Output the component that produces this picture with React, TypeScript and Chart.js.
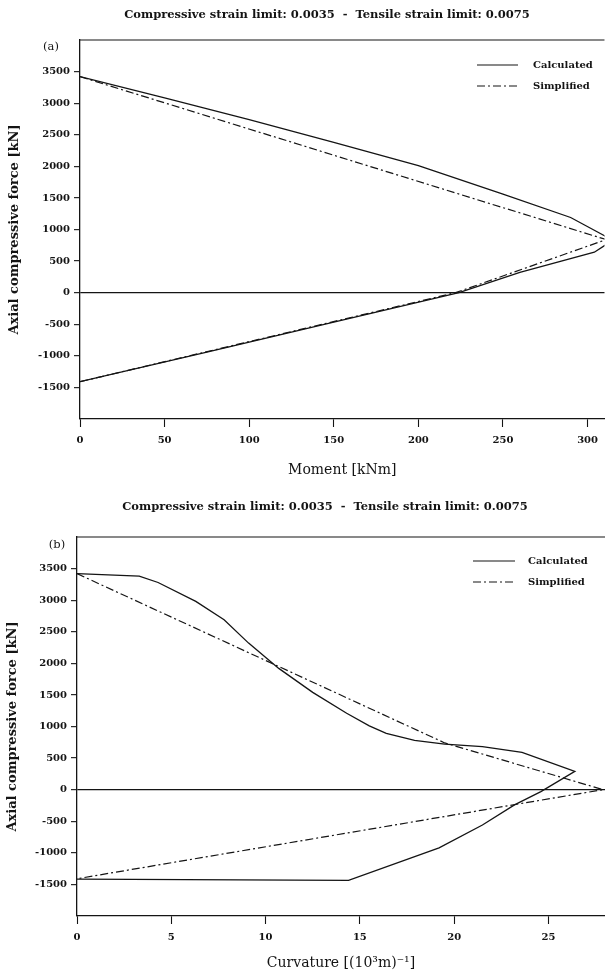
import React, { useEffect, useRef } from "react";
import { Chart, registerables } from "chart.js";

Chart.register(...registerables);

// ---------- text ----------
const TITLE = "Compressive strain limit: 0.0035  -  Tensile strain limit: 0.0075";
const Y_TITLE = "Axial compressive force [kN]";
const X_TITLE_A = "Moment [kNm]";
const X_TITLE_B = "Curvature [(10³m)⁻¹]";
const SERIES_NAMES = ["Calculated", "Simplified"];

// ---------- panel (a): moment vs axial force ----------
const momentCalc = [0, 50, 100, 150, 200, 250, 290, 310, 314, 310, 304, 260, 224, 150, 75, 0];
const forceCalcA = [3420, 3085, 2740, 2380, 2010, 1560, 1190, 902, 810, 744, 640, 320, 0, -465, -940, -1410];
const momentSimp = [0, 311, 222, 0];
const forceSimpA = [3420, 840, 0, -1410];

// ---------- panel (b): curvature vs axial force ----------
const curvCalc = [0, 3.3, 4.3, 6.3, 7.8, 9.1, 10.7, 12.5, 14.3, 15.5, 16.4, 17.9, 19.5, 21.5, 23.6, 26.4, 24.6, 23.2, 21.5, 19.2, 14.4, 0];
const forceCalcB = [3420, 3380, 3280, 2980, 2690, 2320, 1920, 1540, 1210, 1010, 890, 780, 720, 680, 590, 290, -30, -240, -560, -920, -1435, -1415];
const curvSimp = [0, 19.5, 27.9, 0];
const forceSimpB = [3420, 740, 0, -1410];

// ---------- axes ----------
const Y_MIN = -2000;
const Y_MAX = 4000;
const Y_STEP = 500;
const Y_LABEL_MIN = -1500;
const Y_LABEL_MAX = 3500;
const X_MAX_A = 310;
const X_STEP_A = 50;
const X_MAX_B = 28;
const X_STEP_B = 5;

const INK = "#141414";
const SERIF = '"DejaVu Serif", serif';
const DASH_DOT = [8, 3, 2, 3];

const toPoints = (xs: number[], ys: number[]) => xs.map((x, i) => ({ x, y: ys[i] }));

const decorPlugin = {
  id: "decor",
  afterDraw(chart: any, _args: any, opts: any) {
    const { ctx, chartArea } = chart;
    ctx.save();
    ctx.strokeStyle = INK;
    ctx.fillStyle = INK;
    ctx.lineWidth = 1.2;
    // top frame line
    ctx.beginPath();
    ctx.moveTo(chartArea.left, chartArea.top);
    ctx.lineTo(chartArea.right, chartArea.top);
    ctx.stroke();
    // title
    ctx.font = `bold 11.5px ${SERIF}`;
    ctx.textAlign = "center";
    ctx.textBaseline = "middle";
    ctx.fillText(opts.title, opts.titleX, opts.titleY);
    // panel tag
    ctx.font = `11.5px ${SERIF}`;
    ctx.fillText(opts.panel, opts.panelX, opts.panelY);
    // legend
    ctx.textAlign = "left";
    chart.data.datasets.forEach((ds: any, i: number) => {
      const y = opts.legendY + i * opts.legendGap;
      ctx.lineWidth = 1.1;
      ctx.setLineDash(ds.borderDash || []);
      ctx.beginPath();
      ctx.moveTo(opts.legendX, y);
      ctx.lineTo(opts.legendX + opts.legendLen, y);
      ctx.stroke();
      ctx.setLineDash([]);
      ctx.font = `bold 10px ${SERIF}`;
      ctx.fillText(ds.label, opts.legendTextX, y);
    });
    ctx.restore();
  },
};

function makeConfig(p: any) {
  return {
    type: "scatter",
    data: {
      datasets: [
        {
          label: SERIES_NAMES[0],
          data: p.calc,
          showLine: true,
          borderColor: INK,
          borderWidth: 1.3,
          pointRadius: 0,
          tension: 0,
        },
        {
          label: SERIES_NAMES[1],
          data: p.simp,
          showLine: true,
          borderColor: INK,
          borderWidth: 1.2,
          borderDash: DASH_DOT,
          pointRadius: 0,
          tension: 0,
        },
      ],
    },
    options: {
      responsive: false,
      animation: false,
      devicePixelRatio: 1,
      layout: { padding: { top: p.padTop, left: 0, right: 0, bottom: 0 } },
      plugins: {
        legend: { display: false },
        title: { display: false },
        tooltip: { enabled: false },
        decor: p.decor,
      },
      scales: {
        x: {
          type: "linear",
          min: 0,
          max: p.xMax,
          afterFit: (s: any) => {
            s.height = p.xAxisHeight;
          },
          ticks: {
            stepSize: p.xStep,
            includeBounds: false,
            color: INK,
            font: { family: SERIF, size: 10, weight: "bold" },
            padding: 7,
            maxRotation: 0,
          },
          grid: {
            drawOnChartArea: false,
            drawTicks: true,
            tickLength: 8,
            tickColor: INK,
            tickWidth: 1.1,
          },
          border: { display: true, color: INK, width: 1.3 },
          title: {
            display: true,
            text: p.xTitle,
            color: INK,
            font: { family: SERIF, size: 14 },
            padding: { top: 0, bottom: p.xTitlePad },
          },
        },
        y: {
          type: "linear",
          min: Y_MIN,
          max: Y_MAX,
          afterFit: (s: any) => {
            s.width = p.yAxisWidth;
          },
          ticks: {
            stepSize: Y_STEP,
            includeBounds: false,
            color: INK,
            font: { family: SERIF, size: 10, weight: "bold" },
            padding: 4,
            callback: (v: number) => (v >= Y_LABEL_MIN && v <= Y_LABEL_MAX ? String(v) : ""),
          },
          grid: {
            drawOnChartArea: true,
            drawTicks: true,
            tickLength: 6,
            lineWidth: 1.3,
            tickWidth: 1.1,
            color: (c: any) => (c.tick && c.tick.value === 0 ? INK : "rgba(0,0,0,0)"),
            tickColor: (c: any) =>
              c.tick && c.tick.value >= Y_LABEL_MIN && c.tick.value <= Y_LABEL_MAX ? INK : "rgba(0,0,0,0)",
          },
          border: { display: true, color: INK, width: 1.3 },
          title: {
            display: true,
            text: Y_TITLE,
            color: INK,
            font: { family: SERIF, size: 13, weight: "bold" },
            padding: { top: p.yTitlePad, bottom: 0 },
          },
        },
      },
    },
    plugins: [decorPlugin],
  };
}

export default function App() {
  const refA = useRef<HTMLCanvasElement | null>(null);
  const refB = useRef<HTMLCanvasElement | null>(null);

  useEffect(() => {
    document.body.style.margin = "0";
    const cA = new Chart(
      refA.current as HTMLCanvasElement,
      makeConfig({
        calc: toPoints(momentCalc, forceCalcA),
        simp: toPoints(momentSimp, forceSimpA),
        xMax: X_MAX_A,
        xStep: X_STEP_A,
        xTitle: X_TITLE_A,
        padTop: 40,
        xAxisHeight: 71,
        yAxisWidth: 80,
        xTitlePad: 11,
        yTitlePad: 7,
        decor: {
          title: TITLE,
          titleX: 327,
          titleY: 15,
          panel: "(a)",
          panelX: 51,
          panelY: 47,
          legendX: 477,
          legendLen: 41,
          legendTextX: 533,
          legendY: 65,
          legendGap: 21,
        },
      }) as any
    );
    const cB = new Chart(
      refB.current as HTMLCanvasElement,
      makeConfig({
        calc: toPoints(curvCalc, forceCalcB),
        simp: toPoints(curvSimp, forceSimpB),
        xMax: X_MAX_B,
        xStep: X_STEP_B,
        xTitle: X_TITLE_B,
        padTop: 47,
        xAxisHeight: 62,
        yAxisWidth: 77,
        xTitlePad: 6,
        yTitlePad: 5,
        decor: {
          title: TITLE,
          titleX: 325,
          titleY: 17,
          panel: "(b)",
          panelX: 57,
          panelY: 55,
          legendX: 473,
          legendLen: 42,
          legendTextX: 528,
          legendY: 71,
          legendGap: 21,
        },
      }) as any
    );
    return () => {
      cA.destroy();
      cB.destroy();
    };
  }, []);

  return (
    <div style={{ width: 605, height: 978, background: "#fff" }}>
      <canvas ref={refA} width={605} height={490} style={{ display: "block" }} />
      <canvas ref={refB} width={605} height={488} style={{ display: "block" }} />
    </div>
  );
}
